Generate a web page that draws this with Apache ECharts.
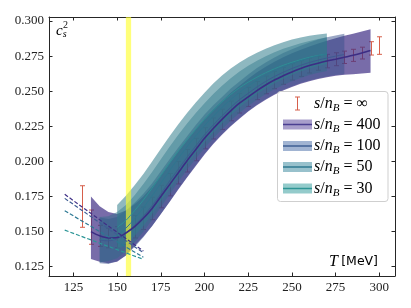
<!DOCTYPE html>
<html><head><meta charset="utf-8">
<script src="https://cdn.jsdelivr.net/npm/echarts@6/dist/echarts.min.js"></script>
<style>html,body{margin:0;padding:0;background:#fff}#c{width:411px;height:308px}</style>
</head><body><div id="c"></div>
<script>
// ---- axis ticks ----
const xTicks = [125,150,175,200,225,250,275,300];
const yTicks = [0.125,0.150,0.175,0.200,0.225,0.250,0.275,0.300];
const tcBand = [155,158];

// ---- s/n_B = 400 ----
const T400 = [135,140,145,150,155,160,165,170,175,180,185,190,195,200,205,210,215,220,225,230,235,240,245,250,255,260,265,270,275,280,285,290,295];
const c400 = [0.1500,0.1470,0.1455,0.1458,0.1490,0.1535,0.1595,0.1665,0.1750,0.1835,0.1920,0.2005,0.2085,0.2165,0.2235,0.2300,0.2360,0.2415,0.2460,0.2505,0.2545,0.2580,0.2610,0.2638,0.2662,0.2683,0.2700,0.2715,0.2728,0.2742,0.2756,0.2772,0.2790];
const lo400 = [0.1305,0.1285,0.1275,0.1285,0.1330,0.1400,0.1465,0.1540,0.1625,0.1712,0.1800,0.1885,0.1968,0.2050,0.2125,0.2190,0.2250,0.2305,0.2355,0.2400,0.2440,0.2475,0.2505,0.2530,0.2553,0.2572,0.2588,0.2600,0.2610,0.2617,0.2622,0.2627,0.2632];
const hi400 = [0.1750,0.1680,0.1640,0.1625,0.1650,0.1695,0.1750,0.1820,0.1900,0.1985,0.2070,0.2150,0.2230,0.2305,0.2370,0.2430,0.2490,0.2540,0.2590,0.2635,0.2675,0.2710,0.2742,0.2770,0.2795,0.2818,0.2840,0.2860,0.2878,0.2895,0.2910,0.2925,0.2941];

// ---- s/n_B = 100 ----
const T100 = [140,145,150,155,160,165,170,175,180,185,190,195,200,205,210,215,220,225,230,235,240,245,250,255,260,265,270,275,280];
const lo100 = [0.1275,0.1270,0.1290,0.1330,0.1390,0.1460,0.1540,0.1625,0.1715,0.1805,0.1890,0.1975,0.2055,0.2130,0.2195,0.2255,0.2310,0.2360,0.2405,0.2445,0.2480,0.2510,0.2535,0.2558,0.2577,0.2592,0.2605,0.2615,0.2622];
const c100 = [0.1440,0.1435,0.1450,0.1490,0.1545,0.1610,0.1685,0.1770,0.1860,0.1945,0.2030,0.2110,0.2190,0.2260,0.2325,0.2385,0.2440,0.2485,0.2530,0.2570,0.2605,0.2635,0.2662,0.2685,0.2705,0.2722,0.2737,0.2750,0.2762];
const hi100 = [0.1600,0.1590,0.1605,0.1650,0.1705,0.1770,0.1845,0.1930,0.2015,0.2100,0.2180,0.2260,0.2335,0.2400,0.2460,0.2520,0.2570,0.2620,0.2665,0.2705,0.2740,0.2772,0.2800,0.2825,0.2848,0.2868,0.2885,0.2898,0.2910];

// ---- s/n_B = 50 ----
const T50 = [140,145,150,155,160,165,170,175,180,185,190,195,200,205,210,215,220,225,230,235,240,245,250,255,260,265,270];
const lo50 = [0.1280,0.1290,0.1310,0.1360,0.1425,0.1500,0.1585,0.1675,0.1765,0.1855,0.1940,0.2020,0.2095,0.2165,0.2230,0.2290,0.2345,0.2395,0.2440,0.2480,0.2515,0.2545,0.2572,0.2595,0.2615,0.2632,0.2645];
const c50 = [0.1445,0.1450,0.1475,0.1525,0.1592,0.1670,0.1755,0.1845,0.1935,0.2022,0.2105,0.2182,0.2255,0.2322,0.2385,0.2441,0.2492,0.2538,0.2579,0.2615,0.2646,0.2673,0.2697,0.2718,0.2736,0.2752,0.2765];
const hi50 = [0.1605,0.1610,0.1640,0.1690,0.1760,0.1840,0.1925,0.2015,0.2105,0.2190,0.2270,0.2345,0.2415,0.2480,0.2540,0.2592,0.2640,0.2682,0.2718,0.2750,0.2778,0.2802,0.2823,0.2842,0.2858,0.2872,0.2885];

// ---- s/n_B = 30 ----
const T30 = [150,155,160,165,170,175,180,185,190,195,200,205,210,215,220,225,230,235,240,245,250,255,260,265,270];
const lo30 = [0.1370,0.1410,0.1470,0.1540,0.1625,0.1715,0.1805,0.1895,0.1980,0.2060,0.2135,0.2205,0.2270,0.2330,0.2385,0.2435,0.2480,0.2520,0.2555,0.2587,0.2615,0.2640,0.2662,0.2680,0.2695];
const c30 = [0.1530,0.1580,0.1650,0.1725,0.1810,0.1900,0.1990,0.2075,0.2155,0.2230,0.2300,0.2365,0.2425,0.2478,0.2525,0.2565,0.2600,0.2632,0.2660,0.2685,0.2706,0.2725,0.2742,0.2755,0.2765];
const hi30 = [0.1690,0.1755,0.1830,0.1910,0.2000,0.2090,0.2180,0.2265,0.2345,0.2420,0.2490,0.2555,0.2612,0.2662,0.2705,0.2742,0.2775,0.2803,0.2828,0.2850,0.2868,0.2883,0.2895,0.2905,0.2912];

// ---- s/n_B = infinity (error bars) ----
const errT  = [130,135,140,145,150,155,160,165,170,175,180,185,190,195,200,205,210,215,220,225,230,235,240,245,250,255,260,265,270,275,280,285,290,295,300];
const errLo = [0.1531,0.1410,0.1395,0.1385,0.1385,0.1410,0.1455,0.1515,0.1585,0.1670,0.1755,0.1840,0.1925,0.2005,0.2090,0.2160,0.2228,0.2290,0.2345,0.2392,0.2440,0.2482,0.2518,0.2550,0.2580,0.2606,0.2630,0.2650,0.2667,0.2682,0.2698,0.2713,0.2730,0.2758,0.2763];
const errHi = [0.1827,0.1654,0.1545,0.1525,0.1535,0.1570,0.1615,0.1675,0.1745,0.1830,0.1915,0.2000,0.2085,0.2165,0.2240,0.2310,0.2372,0.2430,0.2485,0.2528,0.2570,0.2608,0.2642,0.2670,0.2696,0.2718,0.2736,0.2750,0.2763,0.2774,0.2786,0.2799,0.2814,0.2853,0.2888];

// ---- low-T dashed curves ----
const dashT = [120,142.5,165];
const dash400 = [0.1766,0.1562,0.1362];
const dash100 = [0.1737,0.1542,0.1350];
const dash50  = [0.1649,0.1482,0.1318];
const dash30  = [0.1511,0.1406,0.1303];

const X0 = 111, X1 = 309, Y0 = 0.1184, Y1 = 0.3029;
const AX = '#262626';
const SERIF = "'Liberation Serif','Times New Roman',serif";

const chart = echarts.init(document.getElementById('c'), null, {renderer: 'canvas'});

function bandSeries(name, T, lo, hi, fill, z) {
  return {
    type: 'custom', name: name, z: z, silent: true, animation: false,
    data: T.map((t, i) => [t, lo[i], hi[i]]),
    encode: {x: 0, y: [1, 2]},
    renderItem: function (p, api) {
      if (p.dataIndex !== 0) return null;
      const up = T.map((t, i) => api.coord([t, hi[i]]));
      const dn = T.map((t, i) => api.coord([t, lo[i]])).reverse();
      return {type: 'polygon', shape: {points: up.concat(dn), smooth: 0}, style: {fill: fill}};
    }
  };
}
function lineSeries(name, T, v, color, width, z, dashed) {
  return {
    type: 'line', name: name, z: z, silent: true, animation: false,
    data: T.map((t, i) => [t, v[i]]), showSymbol: false, symbol: 'none', smooth: dashed ? false : 0.3,
    lineStyle: {color: color, width: width, type: dashed ? [4, 2] : 'solid'}
  };
}

const ERR = '#d65f4b';
const series = [
  {
    type: 'custom', name: 'inf', z: 1, silent: true, animation: false,
    data: errT.map((t, i) => [t, errLo[i], errHi[i]]),
    encode: {x: 0, y: [1, 2]},
    renderItem: function (p, api) {
      const t = api.value(0);
      const a = api.coord([t, api.value(1)]), b = api.coord([t, api.value(2)]);
      const x = Math.round(a[0]) + 0.5, w = 2.5;
      const st = {stroke: ERR, lineWidth: 1};
      return {type: 'group', children: [
        {type: 'line', shape: {x1: x, y1: a[1], x2: x, y2: b[1]}, style: st},
        {type: 'line', shape: {x1: x - w, y1: a[1], x2: x + w, y2: a[1]}, style: st},
        {type: 'line', shape: {x1: x - w, y1: b[1], x2: x + w, y2: b[1]}, style: st}
      ]};
    }
  },
  bandSeries('b400', T400, lo400, hi400, 'rgba(62,46,132,0.70)', 2),
  bandSeries('b100', T100, lo100, hi100, 'rgba(55,80,140,0.50)', 3),
  bandSeries('b50',  T50,  lo50,  hi50,  'rgba(45,110,135,0.45)', 4),
  bandSeries('b30',  T30,  lo30,  hi30,  'rgba(50,125,140,0.55)', 5),
  {
    type: 'custom', name: 'Tc', z: 6, silent: true, animation: false,
    data: [tcBand],
    renderItem: function (p, api) {
      const a = api.coord([api.value(0), Y1]), b = api.coord([api.value(1), Y0]);
      return {type: 'rect', shape: {x: a[0], y: a[1], width: b[0] - a[0], height: b[1] - a[1]}, style: {fill: 'rgba(255,255,40,0.62)'}};
    }
  },
  lineSeries('l30', T30, c30, '#2e8f95', 1, 7, false),
  lineSeries('l50', T50, c50, '#2f7690', 1, 7, false),
  lineSeries('l100', T100, c100, '#3e5a90', 1, 7, false),
  lineSeries('l400', T400, c400, '#3c2d84', 1.6, 8, false),
  lineSeries('d400', dashT, dash400, '#3f2f86', 1.2, 9, true),
  lineSeries('d100', dashT, dash100, '#3e5d93', 1.2, 9, true),
  lineSeries('d50', dashT, dash50, '#2c7893', 1.2, 9, true),
  lineSeries('d30', dashT, dash30, '#2b9596', 1.2, 9, true)
];

function xAx(pos, show) {
  return {
    type: 'value', min: X0, max: X1, position: pos,
    axisLine: {show: true, onZero: false, lineStyle: {color: AX, width: 1}},
    axisTick: {show: true, inside: true, length: 3.5, customValues: xTicks, lineStyle: {color: AX}},
    axisLabel: {show: show, customValues: xTicks, fontFamily: SERIF, fontSize: 13, color: '#222', margin: 5},
    splitLine: {show: false}
  };
}
function yAx(pos, show) {
  return {
    type: 'value', min: Y0, max: Y1, position: pos,
    axisLine: {show: true, onZero: false, lineStyle: {color: AX, width: 1}},
    axisTick: {show: true, inside: true, length: 3.5, customValues: yTicks, lineStyle: {color: AX}},
    axisLabel: {show: show, customValues: yTicks, fontFamily: SERIF, fontSize: 13, color: '#222', margin: 5,
      formatter: v => v.toFixed(3)},
    splitLine: {show: false}
  };
}

const legendRows = [
  {label: '\u221e', fill: null, line: ERR},
  {label: '400', fill: '#a89ecb', line: '#4b3f91'},
  {label: '100', fill: '#a1b4d2', line: '#3f5f93'},
  {label: '50', fill: '#98c1cc', line: '#2f7891'},
  {label: '30', fill: '#94cbcb', line: '#2d9494'}
];
const rowY = [103.5, 124.5, 146, 167, 188.5];
const rich = {
  i: {fontFamily: SERIF, fontStyle: 'italic', fontSize: 16, color: '#111'},
  r: {fontFamily: SERIF, fontSize: 16, color: '#111'},
  sub: {fontFamily: SERIF, fontStyle: 'italic', fontSize: 11, color: '#111', padding: [9, 0, 0, 0], verticalAlign: 'bottom'}
};
const graphics = [{
  type: 'rect', shape: {x: 277.5, y: 91.5, width: 110.5, height: 110, r: 3},
  style: {fill: 'rgba(255,255,255,0.85)', stroke: '#cfcfcf', lineWidth: 1}, z: 100
}];
legendRows.forEach((r, k) => {
  const y = rowY[k];
  if (r.fill) {
    graphics.push({type: 'rect', shape: {x: 283, y: y - 5, width: 29, height: 10}, style: {fill: r.fill}, z: 101});
    graphics.push({type: 'line', shape: {x1: 283, y1: y, x2: 312, y2: y}, style: {stroke: r.line, lineWidth: 1.5}, z: 102});
  } else {
    const st = {stroke: r.line, lineWidth: 1};
    graphics.push({type: 'line', shape: {x1: 297.5, y1: y - 6.5, x2: 297.5, y2: y + 6.5}, style: st, z: 102});
    graphics.push({type: 'line', shape: {x1: 295, y1: y - 6.5, x2: 300, y2: y - 6.5}, style: st, z: 102});
    graphics.push({type: 'line', shape: {x1: 295, y1: y + 6.5, x2: 300, y2: y + 6.5}, style: st, z: 102});
  }
  graphics.push({type: 'text', x: 314, y: y, z: 102,
    style: {text: '{i|s}{r|/}{i|n}{sub|B}{r| = ' + r.label + '}', rich: rich, verticalAlign: 'middle', align: 'left'}});
});
graphics.push({type: 'text', x: 56, y: 31, z: 102, style: {
  text: '{c|c}{s|s}', verticalAlign: 'middle', align: 'left',
  rich: {c: {fontFamily: SERIF, fontStyle: 'italic', fontSize: 15, color: '#111'},
         s: {fontFamily: SERIF, fontStyle: 'italic', fontSize: 10, color: '#111', padding: [7, 0, 0, 0], verticalAlign: 'bottom'}}}});
graphics.push({type: 'text', x: 63, y: 25.5, z: 102, style: {
  text: '2', fontFamily: SERIF, fontSize: 10, fill: '#111', verticalAlign: 'middle', align: 'left'}});
graphics.push({type: 'text', x: 378, y: 262, z: 102, style: {
  text: '{t|T} {m|[MeV]}', verticalAlign: 'middle', align: 'right',
  rich: {t: {fontFamily: SERIF, fontStyle: 'italic', fontSize: 16, color: '#111'},
         m: {fontFamily: "'DejaVu Sans',sans-serif", fontSize: 12.5, color: '#111'}}}});

chart.setOption({
  animation: false,
  backgroundColor: '#ffffff',
  grid: {left: 49, right: 16, top: 17, bottom: 32, containLabel: false},
  xAxis: [xAx('bottom', true), xAx('top', false)],
  yAxis: [yAx('left', true), yAx('right', false)],
  series: series,
  graphic: graphics
});
</script></body></html>
